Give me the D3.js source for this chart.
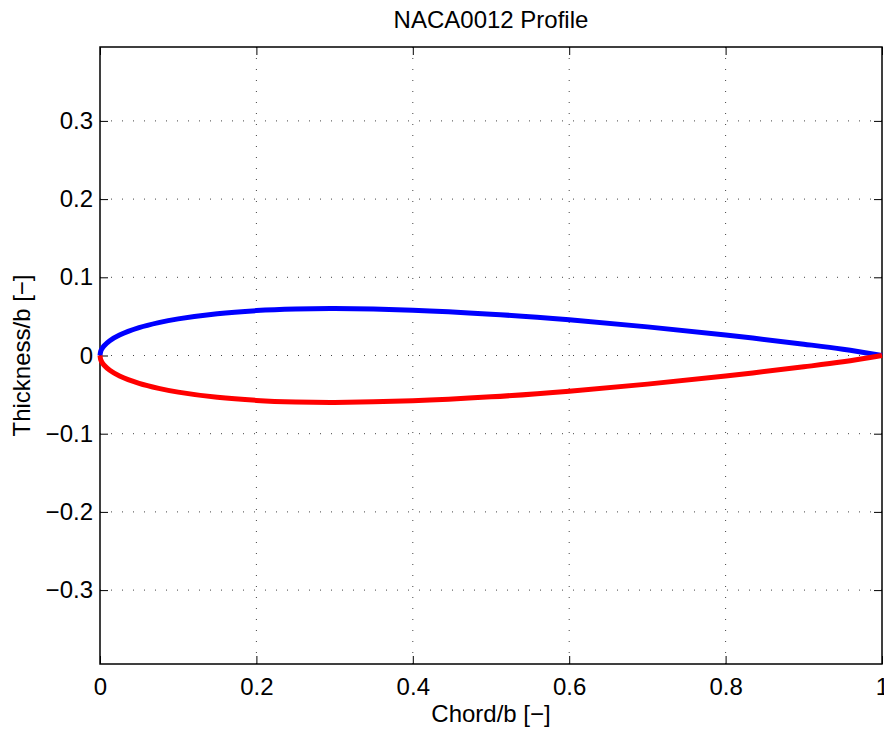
<!DOCTYPE html>
<html>
<head>
<meta charset="utf-8">
<script src="https://cdn.jsdelivr.net/npm/d3@7"></script>
<style>
  html, body { margin: 0; padding: 0; background: #fff; }
  svg { display: block; font-family: "Liberation Sans", Arial, Helvetica, sans-serif; }
</style>
</head>
<body>
<svg id="chart" width="884" height="729"></svg>
<script>
// NACA0012 half-thickness ordinates (chord-normalised)
const chordX = [0, 0.001, 0.0025, 0.005, 0.0125, 0.025, 0.05, 0.075, 0.1, 0.15, 0.2, 0.25, 0.3,
                0.4, 0.5, 0.6, 0.7, 0.8, 0.9, 0.95, 1.0];
const upperY = [0, 0.0056, 0.0087, 0.0122, 0.0189, 0.0262, 0.0356, 0.0420, 0.0468, 0.0535, 0.0574,
                0.0594, 0.0600, 0.0580, 0.0529, 0.0456, 0.0366, 0.0262, 0.0145, 0.0081, 0.0];
const lowerY = [0, -0.0056, -0.0087, -0.0122, -0.0189, -0.0262, -0.0356, -0.0420, -0.0468, -0.0535, -0.0574,
                -0.0594, -0.0600, -0.0580, -0.0529, -0.0456, -0.0366, -0.0262, -0.0145, -0.0081, 0.0];

const xTicks = [0, 0.2, 0.4, 0.6, 0.8, 1];
const yTicks = [-0.3, -0.2, -0.1, 0, 0.1, 0.2, 0.3];

const titleText = "NACA0012 Profile";
const xLabel = "Chord/b [\u2212]";
const yLabel = "Thickness/b [\u2212]";

const svg = d3.select("#chart");
const plotLeft = 100, plotRight = 882, plotTop = 47, plotBottom = 664;
const fontSize = 24;

// equal aspect: same pixels per unit on both axes
const pxPerUnit = (plotRight - plotLeft) / 1;
const yHalf = (plotBottom - plotTop) / 2 / pxPerUnit;

const x = d3.scaleLinear().domain([0, 1]).range([plotLeft, plotRight]);
const y = d3.scaleLinear().domain([-yHalf, yHalf]).range([plotBottom, plotTop]);

const fmt = v => (v === 0 ? "0" : d3.format("~g")(v)).replace("-", "\u2212");

// dotted grid
const grid = svg.append("g").attr("stroke", "#444").attr("stroke-width", 1)
  .attr("stroke-dasharray", "1,10").attr("fill", "none");
xTicks.filter(t => t > 0 && t < 1).forEach(t => {
  grid.append("line").attr("x1", x(t)).attr("x2", x(t)).attr("y1", plotBottom).attr("y2", plotTop);
});
yTicks.forEach(t => {
  grid.append("line").attr("x1", plotLeft).attr("x2", plotRight).attr("y1", y(t)).attr("y2", y(t));
});

// axes with inward ticks, mirrored on top/right
const tickLen = 8;
const axB = svg.append("g").attr("transform", `translate(0,${plotBottom})`)
  .call(d3.axisBottom(x).tickValues(xTicks).tickSize(-tickLen).tickPadding(14).tickFormat(fmt));
const axT = svg.append("g").attr("transform", `translate(0,${plotTop})`)
  .call(d3.axisTop(x).tickValues(xTicks).tickSize(-tickLen).tickFormat(""));
const axL = svg.append("g").attr("transform", `translate(${plotLeft},0)`)
  .call(d3.axisLeft(y).tickValues(yTicks).tickSize(-tickLen).tickPadding(7).tickFormat(fmt));
const axR = svg.append("g").attr("transform", `translate(${plotRight},0)`)
  .call(d3.axisRight(y).tickValues(yTicks).tickSize(-tickLen).tickFormat(""));
[axB, axT, axL, axR].forEach(a => {
  a.select(".domain").remove();
  a.selectAll(".tick line").attr("stroke", "#000").attr("stroke-width", 1);
  a.selectAll("text").attr("fill", "#000").attr("font-size", fontSize);
});

// plot box
svg.append("rect").attr("x", plotLeft).attr("y", plotTop)
  .attr("width", plotRight - plotLeft).attr("height", plotBottom - plotTop)
  .attr("fill", "none").attr("stroke", "#000").attr("stroke-width", 1.5);

// profile curves
const line = d3.line().x(d => x(d[0])).y(d => y(d[1])).curve(d3.curveCatmullRom.alpha(0.5));
svg.append("path").datum(chordX.map((c, i) => [c, upperY[i]]))
  .attr("d", line).attr("fill", "none").attr("stroke", "#0000ff").attr("stroke-width", 5);
svg.append("path").datum(chordX.map((c, i) => [c, lowerY[i]]))
  .attr("d", line).attr("fill", "none").attr("stroke", "#ff0000").attr("stroke-width", 5);

// labels
svg.append("text").attr("x", (plotLeft + plotRight) / 2).attr("y", 28)
  .attr("text-anchor", "middle").attr("font-size", fontSize).text(titleText);
svg.append("text").attr("x", (plotLeft + plotRight) / 2).attr("y", 722)
  .attr("text-anchor", "middle").attr("font-size", fontSize).text(xLabel);
svg.append("text").attr("transform", `translate(30,${(plotTop + plotBottom) / 2}) rotate(-90)`)
  .attr("text-anchor", "middle").attr("font-size", fontSize).text(yLabel);
</script>
</body>
</html>
